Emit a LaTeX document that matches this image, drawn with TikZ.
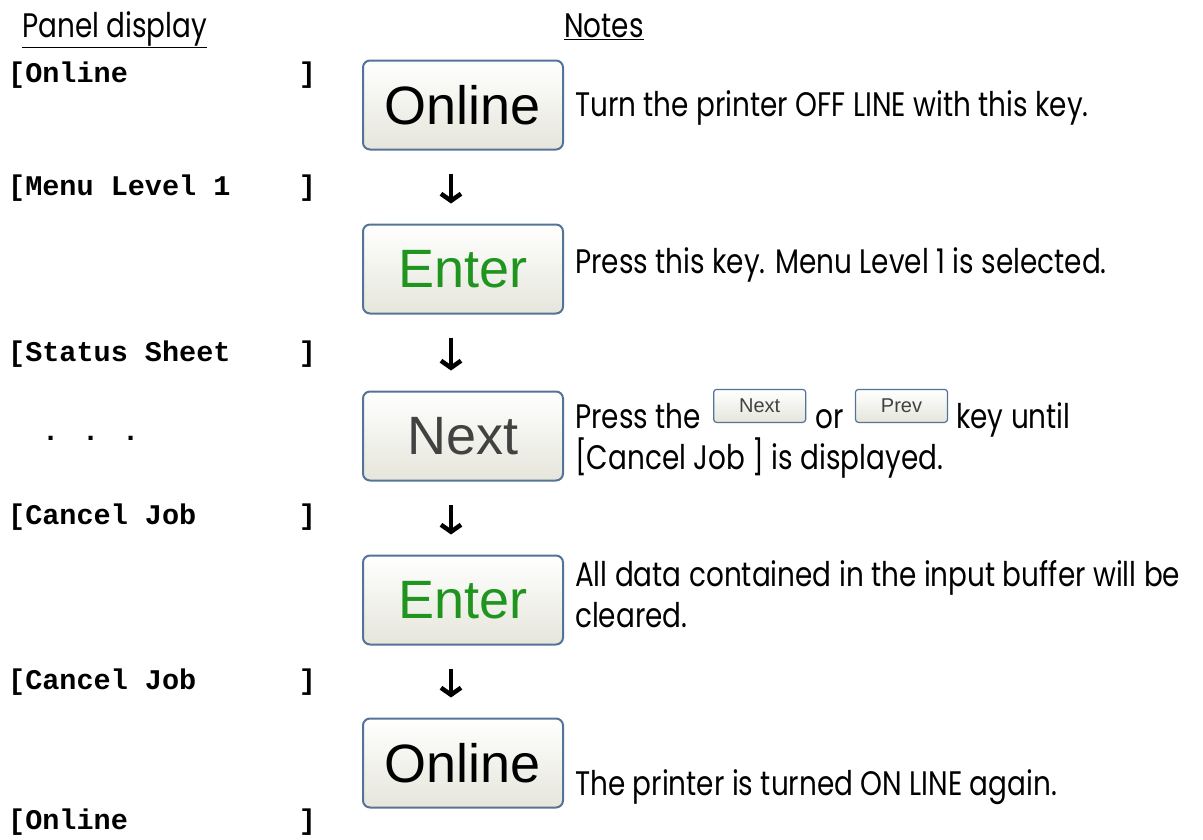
\documentclass[tikz,border=0pt]{standalone}
\usepackage{fontspec}
\usepackage{tikz}
\usetikzlibrary{arrows.meta,positioning}
\newfontfamily\notefont{Poppins}[FakeStretch=0.82]
\newfontfamily\keyfont{Liberation Sans}
\newfontfamily\lcdfont{Liberation Mono}
\definecolor{keyedge}{rgb}{0.33,0.45,0.60}
\definecolor{keyfill}{rgb}{0.90,0.90,0.86}
\definecolor{entergreen}{rgb}{0.12,0.58,0.12}
\definecolor{nextgray}{rgb}{0.26,0.26,0.26}
% 16 character display line between brackets
\newcommand{\lcd}[1]{[\makebox[9.6em][l]{#1}]}

\begin{document}
\begin{tikzpicture}[
    x=1pt, y=-1pt,
    lcdline/.style={anchor=base west, inner sep=0pt, font=\lcdfont\bfseries\fontsize{28.5}{30}\selectfont},
    head/.style={anchor=base west, inner sep=0pt, font=\notefont\fontsize{34}{40}\selectfont},
    note/.style={anchor=base west, inner sep=0pt, font=\notefont\fontsize{34}{40}\selectfont},
    key/.style={draw=keyedge, line width=2pt, rounded corners=7pt, top color=white, bottom color=keyfill,
        minimum width=200pt, minimum height=89pt, font=\keyfont\fontsize{54}{60}\selectfont},
    keymini/.style={draw=keyedge, line width=1.2pt, rounded corners=3pt, top color=white, bottom color=keyfill,
        minimum width=92pt, minimum height=33pt, inner sep=0pt, font=\keyfont\fontsize{20}{22}\selectfont, text=nextgray},
    flow/.style={line width=4.5pt, -{Straight Barb[length=7pt,width=20pt]}, shorten <=23pt, shorten >=20pt}
]
    \useasboundingbox (0,0) rectangle (1203,839);

    % Headings
    \node[head] (hpanel) at (22,37) {\underline{Panel display}};
    \node[head] (hnotes) at (564,37) {\underline{Notes}};

    % Panel display lines
    \node[lcdline] (lcd1) at (8,82) {\lcd{Online}};
    \node[lcdline] (lcd2) at (8,195) {\lcd{Menu Level 1}};
    \node[lcdline] (lcd3) at (8,361) {\lcd{Status Sheet}};
    \node[lcdline] (lcd4) at (42,440) {. . .};
    \node[lcdline] (lcd5) at (8,524) {\lcd{Cancel Job}};
    \node[lcdline] (lcd6) at (8,689) {\lcd{Cancel Job}};
    \node[lcdline] (lcd7) at (8,829) {\lcd{Online}};

    % Keys
    \node[key] (k1) at (463,105) {Online};
    \node[key, text=entergreen] (k2) at (463,269) {Enter};
    \node[key, text=nextgray] (k3) at (463,436) {Next};
    \node[key, text=entergreen] (k4) at (463,600) {Enter};
    \node[key] (k5) at (463,763) {Online};

    \foreach \a/\b in {k1/k2, k2/k3, k3/k4, k4/k5} {
        \draw[flow] ([xshift=-12pt]\a.south) -- ([xshift=-12pt]\b.north);
    }

    % Notes
    \node[note] (n1) at (575,116) {Turn the printer OFF LINE with this key.};
    \node[note] (n2) at (575,273) {Press this key. Menu Level 1 is selected.};

    \node[note] (n3a) at (575,428) {Press the};
    \node[keymini, anchor=south west] (nextmini) at ([xshift=12pt,yshift=5pt]n3a.base east) {Next};
    \node[note] (n3b) at ([xshift=9pt]nextmini.south east |- n3a.base) {or};
    \node[keymini, anchor=south west] (prevmini) at ([xshift=11pt,yshift=5pt]n3b.base east) {Prev};
    \node[note] (n3c) at ([xshift=8pt]prevmini.south east |- n3a.base) {key until};
    \node[note] (n3d) at (575,469) {[Cancel Job ] is displayed.};

    \node[note] (n4a) at (575,586) {All data contained in the input buffer will be};
    \node[note] (n4b) at (575,627) {cleared.};

    \node[note] (n5) at (575,795) {The printer is turned ON LINE again.};

\end{tikzpicture}
\end{document}
